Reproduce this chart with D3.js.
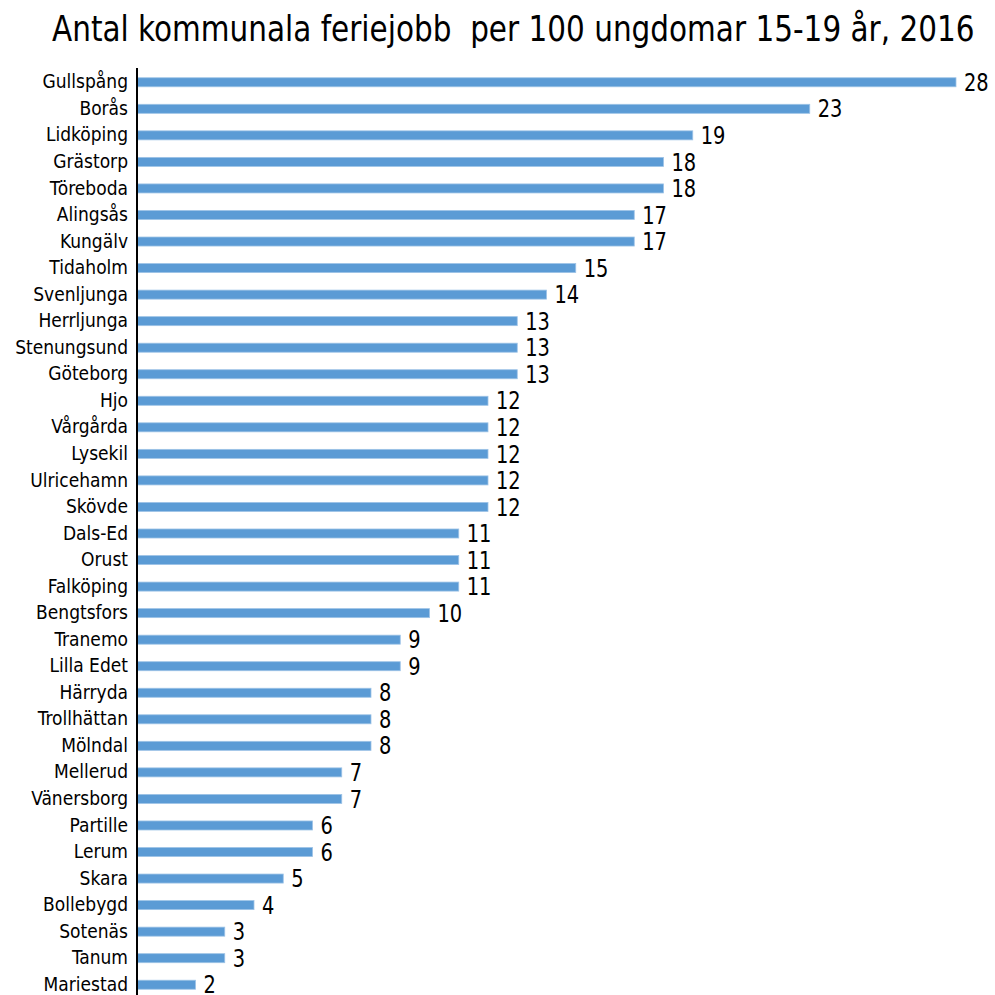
<!DOCTYPE html>
<html>
<head>
<meta charset="utf-8">
<script src="https://cdn.jsdelivr.net/npm/d3@7"></script>
<style>
  body { margin: 0; background: #fff; }
  svg { display: block; }
</style>
</head>
<body>
<svg id="chart"></svg>
<script>
var width = 995;
var height = 995;

// Data
var kommuner = ['Gullspång', 'Borås', 'Lidköping', 'Grästorp', 'Töreboda', 'Alingsås', 'Kungälv',
  'Tidaholm', 'Svenljunga', 'Herrljunga', 'Stenungsund', 'Göteborg', 'Hjo', 'Vårgårda', 'Lysekil',
  'Ulricehamn', 'Skövde', 'Dals-Ed', 'Orust', 'Falköping', 'Bengtsfors', 'Tranemo', 'Lilla Edet',
  'Härryda', 'Trollhättan', 'Mölndal', 'Mellerud', 'Vänersborg', 'Partille', 'Lerum', 'Skara',
  'Bollebygd', 'Sotenäs', 'Tanum', 'Mariestad'];
var jobb = [28, 23, 19, 18, 18, 17, 17, 15, 14, 13, 13, 13, 12, 12, 12, 12, 12, 11, 11, 11, 10,
  9, 9, 8, 8, 8, 7, 7, 6, 6, 5, 4, 3, 3, 2];

var title = 'Antal kommunala feriejobb  per 100 ungdomar 15-19 år, 2016';

var font = '"Liberation Sans Narrow", "DejaVu Sans Condensed", sans-serif';

var svg = d3.select('#chart')
  .attr('width', width)
  .attr('height', height);

var x = d3.scaleLinear()
  .domain([0, 28])
  .range([137, 956]);

var y = d3.scaleBand()
  .domain(kommuner)
  .range([69, 998])
  .paddingInner(0.66)
  .paddingOuter(0.33);

// Title, squeezed horizontally to the width of the original
var titleText = svg.append('text')
  .attr('font-family', font)
  .attr('font-size', 35)
  .attr('fill', '#000')
  .style('white-space', 'pre')
  .text(title);
var sx = 923 / titleText.node().getComputedTextLength();
titleText.attr('transform', 'translate(52,41) scale(' + sx + ',1)');

// Bars
svg.append('g')
  .selectAll('rect')
  .data(jobb)
  .enter().append('rect')
    .attr('x', x(0))
    .attr('y', function(d, i) { return y(kommuner[i]); })
    .attr('width', function(d) { return x(d) - x(0); })
    .attr('height', y.bandwidth())
    .attr('fill', '#5b9bd5')
    .attr('stroke', '#9dc3e6')
    .attr('stroke-width', 0.8);

// Value labels, a bit narrower than the font gives
svg.append('g')
  .selectAll('text')
  .data(jobb)
  .enter().append('text')
    .attr('transform', function(d, i) {
      return 'translate(' + (x(d) + 8) + ',' + (y(kommuner[i]) + y.bandwidth() / 2) + ') scale(0.9,1)';
    })
    .attr('dy', '0.36em')
    .attr('font-family', font)
    .attr('font-size', 24)
    .text(function(d) { return d; });

// Category axis
var yAxis = svg.append('g')
  .attr('transform', 'translate(' + x(0) + ',0)')
  .call(d3.axisLeft(y).tickSize(0).tickPadding(9));

yAxis.select('.domain')
  .attr('d', 'M0,68V995')
  .attr('stroke', '#000')
  .attr('stroke-width', 2);

yAxis.selectAll('text')
  .attr('font-family', font)
  .attr('font-size', 19)
  .attr('fill', '#000');
</script>
</body>
</html>
